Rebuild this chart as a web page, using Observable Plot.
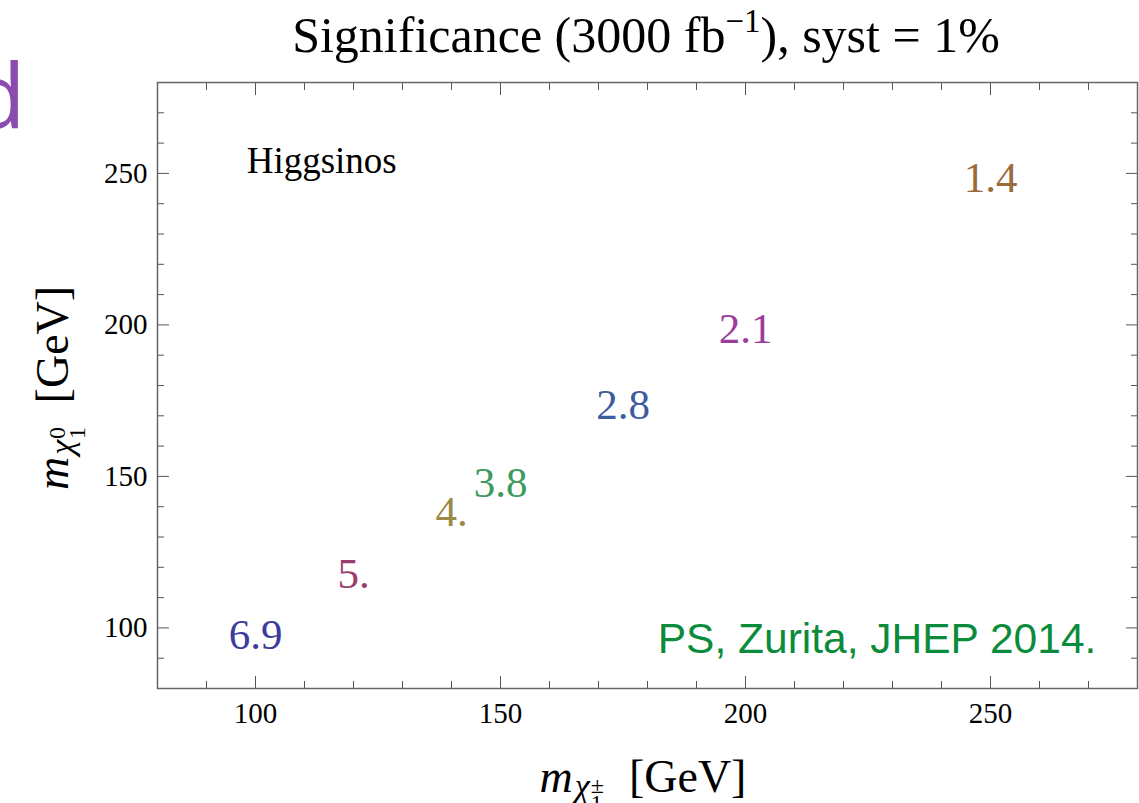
<!DOCTYPE html>
<html><head><meta charset="utf-8">
<script src="https://cdn.jsdelivr.net/npm/d3@7"></script>
<script src="https://cdn.jsdelivr.net/npm/@observablehq/plot@0.6"></script>
<style>
body{margin:0;background:#fff;overflow:hidden}
#chart svg{display:block}
</style>
</head><body><div id="chart"></div>
<script>
// chargino mass (x), neutralino mass (y), significance label, colour
const charginoMass   = [100, 120, 140, 150, 175, 200, 250];
const neutralinoMass = [97.6, 117.8, 138.1, 147.7, 173.4, 198.6, 248.4];
const significance   = ["6.9", "5.", "4.", "3.8", "2.8", "2.1", "1.4"];
const labelColors    = ["#3c3c9c", "#9c3c6e", "#9b8a45", "#3c9a5c", "#3c5c9c", "#9c3c9c", "#9b6b3d"];

const xMajor = [100, 150, 200, 250];
const xMinor = [90, 110, 120, 130, 140, 160, 170, 180, 190, 210, 220, 230, 240, 260, 270];
const yMajor = [100, 150, 200, 250];
const yMinor = [90, 110, 120, 130, 140, 160, 170, 180, 190, 210, 220, 230, 240, 260, 270];

const noteHiggsinos = {text: "Higgsinos", x: 98.2, y: 254};
const noteCredit = {text: "PS, Zurita, JHEP 2014.", x: 271.6, y: 96.1};

const points = charginoMass.map((m, i) => ({x: m, y: neutralinoMass[i], label: significance[i], color: labelColors[i]}));

const W = 1139, H = 803, ML = 157, MR = 2, MT = 82, MB = 115;
const serif = "'Liberation Serif', 'Times New Roman', Times, serif";
const tickColor = "#555";

const plot = Plot.plot({
  width: W, height: H,
  marginLeft: ML, marginRight: MR, marginTop: MT, marginBottom: MB,
  x: {domain: [80, 280]},
  y: {domain: [80, 280]},
  style: {fontFamily: serif, background: "#fff", color: "#000", overflow: "visible"},
  marks: [
    // inward ticks on all four sides
    Plot.axisX(xMajor, {anchor: "bottom", tickSize: -12, tickFormat: () => "", label: null, stroke: tickColor}),
    Plot.axisX(xMinor, {anchor: "bottom", tickSize: -7, tickFormat: () => "", label: null, stroke: tickColor}),
    Plot.axisX(xMajor, {anchor: "top", tickSize: -12, tickFormat: () => "", label: null, stroke: tickColor}),
    Plot.axisX(xMinor, {anchor: "top", tickSize: -7, tickFormat: () => "", label: null, stroke: tickColor}),
    Plot.axisY(yMajor, {anchor: "left", tickSize: -12, tickFormat: () => "", label: null, stroke: tickColor}),
    Plot.axisY(yMinor, {anchor: "left", tickSize: -7, tickFormat: () => "", label: null, stroke: tickColor}),
    Plot.axisY(yMajor, {anchor: "right", tickSize: -12, tickFormat: () => "", label: null, stroke: tickColor}),
    Plot.axisY(yMinor, {anchor: "right", tickSize: -7, tickFormat: () => "", label: null, stroke: tickColor}),
    // tick labels
    Plot.axisX(xMajor, {anchor: "bottom", tickSize: 0, tickPadding: 14, fontSize: 29, label: null, fill: "#000"}),
    Plot.axisY(yMajor, {anchor: "left", tickSize: 0, tickPadding: 10, fontSize: 29, label: null, fill: "#000"}),
    Plot.frame({stroke: "#666", strokeWidth: 1.5}),
    Plot.text(points, {x: "x", y: "y", text: "label", fill: "color", fontSize: 43, fontFamily: serif}),
    Plot.text([noteHiggsinos], {x: "x", y: "y", text: "text", textAnchor: "start", fontSize: 37, fill: "#000", fontFamily: serif}),
    Plot.text([noteCredit], {x: "x", y: "y", text: "text", textAnchor: "end", fontSize: 42.5, fill: "#0b8c3c", fontFamily: "'Liberation Sans', Arial, Helvetica, sans-serif"})
  ]
});

document.getElementById("chart").appendChild(plot);

const svg = d3.select(plot);
const cx = ML + (W - ML - MR) / 2;
const cy = MT + (H - MT - MB) / 2;

// stray slide letter at top-left (partly off the page)
svg.append("text")
  .attr("x", -2).attr("y", 128)
  .attr("font-family", "'Open Sans', 'Noto Sans', 'DejaVu Sans', sans-serif")
  .attr("font-size", 90)
  .attr("fill", "#8b4caf")
  .text("d");

// title
const title = svg.append("text")
  .attr("x", cx - 1).attr("y", 52)
  .attr("text-anchor", "middle")
  .attr("font-family", serif)
  .attr("font-size", 50)
  .attr("fill", "#000");
title.append("tspan").text("Significance (3000 fb");
title.append("tspan").attr("font-size", 33).attr("dy", -20).text("\u22121");
title.append("tspan").attr("dy", 20).text("), syst = 1%");

// x label
const xl = svg.append("text")
  .attr("x", cx - 4).attr("y", 792)
  .attr("text-anchor", "middle")
  .attr("font-family", serif)
  .attr("font-size", 46)
  .attr("fill", "#000");
xl.append("tspan").attr("font-style", "italic").text("m");
xl.append("tspan").attr("font-style", "italic").attr("font-size", 34).attr("dy", 5).attr("dx", 2).text("\u03c7");
xl.append("tspan").attr("font-size", 24).attr("dy", -4).attr("dx", 1).text("\u00b1");
xl.append("tspan").attr("font-size", 24).attr("dy", 18).attr("dx", -13.5).text("1");
xl.append("tspan").attr("dy", -19).attr("dx", 15).text("\u00a0[GeV]");

// y label
const yl = svg.append("text")
  .attr("transform", `translate(68,${cy + 3}) rotate(-90)`)
  .attr("text-anchor", "middle")
  .attr("font-family", serif)
  .attr("font-size", 46)
  .attr("fill", "#000");
yl.append("tspan").attr("font-style", "italic").text("m");
yl.append("tspan").attr("font-style", "italic").attr("font-size", 34).attr("dy", 5).attr("dx", 2).text("\u03c7");
yl.append("tspan").attr("font-size", 24).attr("dy", -8).attr("dx", 1).text("0");
yl.append("tspan").attr("font-size", 24).attr("dy", 20).attr("dx", -12).text("1");
yl.append("tspan").attr("dy", -17).attr("dx", 12).text("\u00a0[GeV]");
</script>
</body></html>
